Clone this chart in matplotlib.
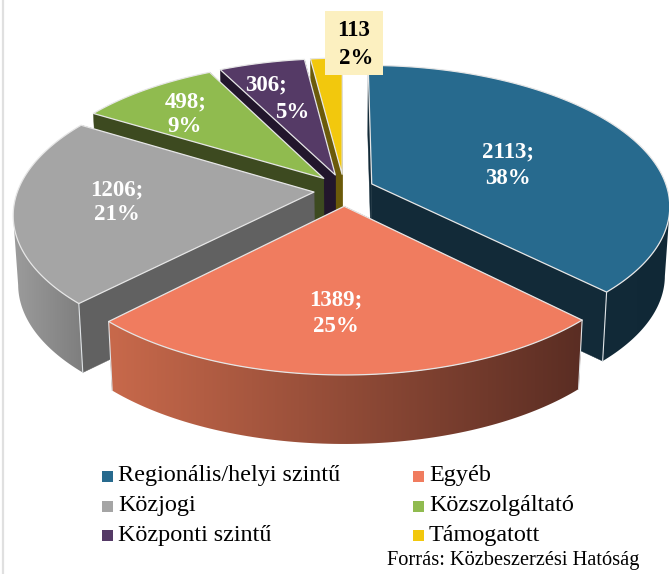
#!/usr/bin/env python
#-*-coding:utf-8 -*-
import numpy as np
import matplotlib
matplotlib.use('Agg')
import matplotlib.pyplot as plt
from matplotlib.colors import to_rgb
from matplotlib.patches import Polygon, Rectangle

categories = ['Regionális/helyi szintű', 'Egyéb', 'Közjogi', 'Közszolgáltató', 'Központi szintű', 'Támogatott']
values = [2113, 1389, 1206, 498, 306, 113]
percents = ['38%', '25%', '21%', '9%', '5%', '2%']
top_colors = ['#276a8e', '#f07c5f', '#a5a5a5', '#90bb4f', '#553a66', '#f2c80d']
face_colors = ['#122a38', '#85432f', '#616161', '#3d4a20', '#22162c', '#6b5a0a']
wall_left = ['#122a38', '#c8694b', '#9c9c9c', '#3d4a20', '#22162c', '#6b5a0a']
wall_right = ['#102836', '#5a2d23', '#7e7e7e', '#3d4a20', '#22162c', '#6b5a0a']
value_pos = [(508, 152), (336, 300), (117, 190), (186, 102), (266, 85), (354, 31)]
percent_pos = [(508, 178), (336, 326), (117, 215), (185, 127), (292, 112), (356, 58)]
label_colors = ['white', 'white', 'white', 'white', 'white', 'black']

# pie geometry, pixels
CX, CY = 344, 190
R, A = 296, 138
K = 0.15
EXPLODE_X, EXPLODE_Y = 0.102, 0.116
DEPTH = 69
SHRINK = 0.985


def project(x, y):
    w = 1 - K * y
    return CX + R * x / w, CY + A * y / w


def bottom(px, py):
    return CX + (px - CX) * SHRINK, py + DEPTH


fig = plt.figure(figsize=(6.69, 5.74), dpi=100)
ax = fig.add_axes([0, 0, 1, 1])
ax.axis('off')

ax.plot([2.5, 2.5], [0, 574], color='#e0e0e0', lw=1.6, zorder=0)

total = float(sum(values))
ends = np.cumsum(values) / total * 2 * np.pi
starts = np.r_[0, ends[:-1]]
draw_order = [5, 4, 3, 0, 2, 1]

z = 1
for i in draw_order:
    t0, t1 = starts[i], ends[i]
    mid = (t0 + t1) / 2
    ox, oy = EXPLODE_X * np.sin(mid), -EXPLODE_Y * np.cos(mid)
    ts = np.linspace(t0, t1, max(12, int((t1 - t0) * 60)))
    px, py = project(ox + np.sin(ts), oy - np.cos(ts))
    ax0, ay0 = project(ox, oy)
    bx, by = bottom(px, py)
    abx, aby = bottom(ax0, ay0)

    # cut faces
    for k in (0, -1):
        ax.add_patch(Polygon([(ax0, ay0), (px[k], py[k]), (bx[k], by[k]), (abx, aby)],
                             closed=True, fc=face_colors[i], ec=face_colors[i], lw=0.3, zorder=z))
    z += 1

    # outer wall, only the part that faces us (x runs right to left there)
    front = np.gradient(px) < 0
    if front.sum() > 1:
        wx, wy = px[front], py[front]
        vx, vy = bx[front], by[front]
        wall = Polygon(np.vstack([np.c_[wx, wy], np.c_[vx, vy][::-1]]), closed=True, fc='none', ec='none',
                       transform=ax.transData)
        ax.add_patch(wall)
        c0, c1 = np.array(to_rgb(wall_left[i])), np.array(to_rgb(wall_right[i]))
        grad = np.linspace(0, 1, 256)[None, :, None] * (c1 - c0) + c0
        im = ax.imshow(grad, extent=[min(wx.min(), vx.min()), max(wx.max(), vx.max()), vy.max(), wy.min()],
                       aspect='auto', interpolation='bilinear', zorder=z)
        im.set_clip_path(wall)
    z += 1

    # corner lines
    for k in (0, -1):
        if np.cos(ts[k]) < 0:
            ax.plot([px[k], bx[k]], [py[k], by[k]], color='#dfe3e6', lw=0.8, zorder=z)
    z += 1

    # top
    pts = np.vstack([[ax0, ay0], np.c_[px, py]])
    ax.add_patch(Polygon(pts, closed=True, fc=top_colors[i], ec='#e6e6e6', lw=0.9, joinstyle='round', zorder=z))
    z += 1

serif = 'Liberation Serif'

# box behind the label of the small slice
ax.add_patch(Rectangle((325, 11), 58, 64, fc='#fcf0c0', ec='none', zorder=z + 1))

for i in range(len(values)):
    # only the small slice has its value without the semicolon
    first = str(values[i]) if i == 5 else '%d;' % values[i]
    ax.text(value_pos[i][0], value_pos[i][1], first, color=label_colors[i], fontsize=16.5, fontweight='bold',
            family=serif, ha='center', va='center', zorder=z + 2)
    ax.text(percent_pos[i][0], percent_pos[i][1], percents[i], color=label_colors[i], fontsize=16.5,
            fontweight='bold', family=serif, ha='center', va='center', zorder=z + 2)

# legend
leg_x = [102, 413]
leg_y = [476, 506, 535]
for i, name in enumerate(categories):
    x = leg_x[i % 2]
    y = leg_y[i // 2]
    ax.add_patch(Rectangle((x, y - 5), 10.5, 10.5, fc=top_colors[i], ec='none', zorder=z))
    ax.text(x + 16, y, name, color='black', fontsize=17.4, family=serif, ha='left', va='center', zorder=z)

ax.text(387, 561, 'Forrás: Közbeszerzési Hatóság', color='black', fontsize=14.7, family=serif,
        ha='left', va='center', zorder=z)

ax.set_xlim(0, 669)
ax.set_ylim(574, 0)
fig.savefig('out.png', dpi=100)
